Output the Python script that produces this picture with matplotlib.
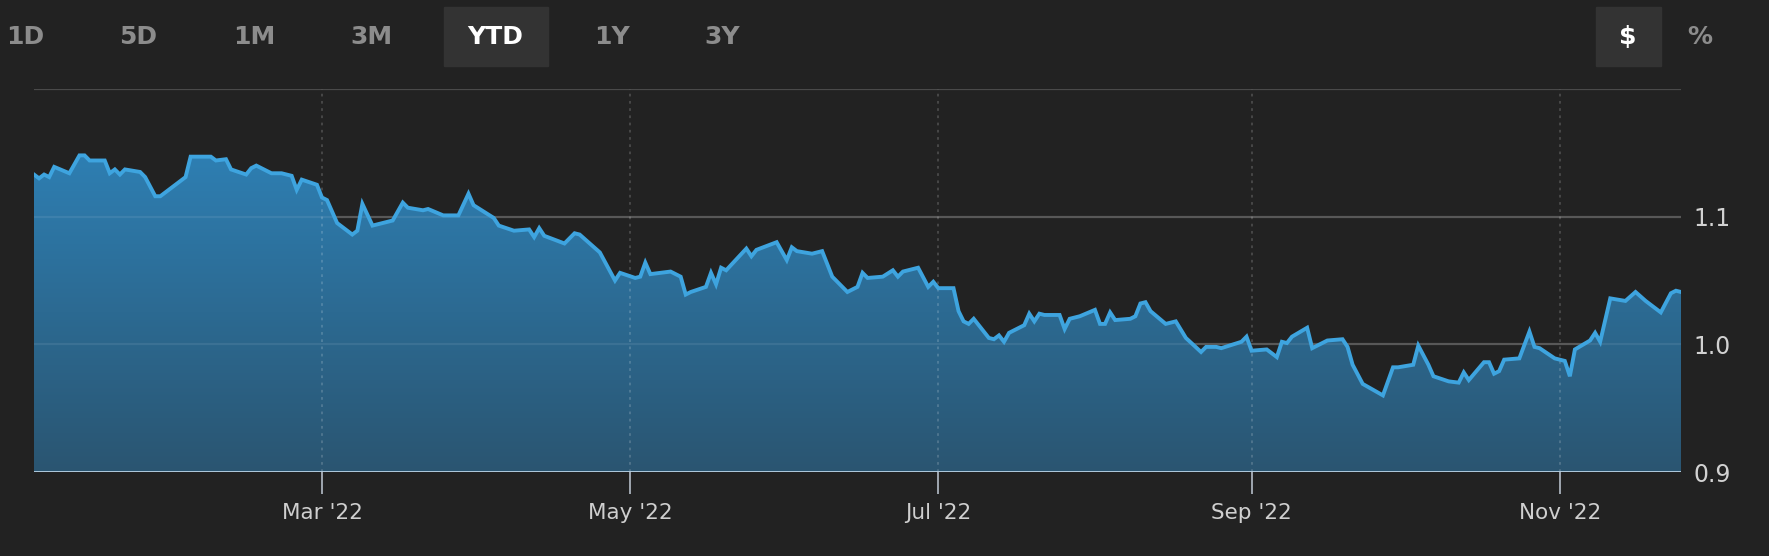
import numpy as np
import pandas as pd
import matplotlib
matplotlib.use("Agg")
import matplotlib.pyplot as plt
import matplotlib.dates as mdates
from matplotlib.colors import LinearSegmentedColormap
from matplotlib.patches import Rectangle

# Données (jours depuis le 3 janv. 2022, valeur)
days = [0, 1, 2, 3, 4, 7, 9, 10, 11, 14, 15, 16, 17, 18, 21, 22, 24, 25, 30, 31,
        35, 36, 38, 39, 42, 43, 44, 46, 47, 49, 51, 52, 53, 56, 57, 58, 60, 63, 64, 65,
        67, 71, 73, 74, 77, 78, 81, 84, 86, 87, 91, 92, 95, 98, 99, 100, 101, 105, 107, 108,
        112, 115, 116, 119, 120, 121, 122, 126, 128, 129, 130, 133, 134, 135, 136, 137, 141, 142, 143, 147,
        149, 150, 151, 154, 156, 158, 161, 163, 164, 165, 168, 170, 171, 172, 175, 177, 178, 179, 182, 183,
        184, 185, 186, 189, 190, 191, 192, 193, 196, 197, 198, 199, 200, 203, 204, 205, 207, 210, 211, 212,
        213, 214, 217, 218, 219, 220, 221, 224, 226, 228, 231, 232, 234, 235, 239, 240, 241, 244, 246, 247,
        248, 249, 252, 253, 256, 259, 260, 261, 263, 267, 269, 270, 273, 274, 276, 277, 280, 282, 283, 284,
        287, 288, 289, 290, 291, 294, 296, 297, 298, 301, 303, 304, 305, 308, 309, 310, 312, 315, 317, 319,
        322, 324, 325, 326]
values = [1.133, 1.130, 1.133, 1.131, 1.139, 1.134, 1.148, 1.148, 1.144, 1.144, 1.134, 1.137, 1.133, 1.137, 1.135, 1.131, 1.116, 1.116, 1.131, 1.147,
          1.147, 1.144, 1.145, 1.137, 1.133, 1.138, 1.140, 1.136, 1.134, 1.134, 1.132, 1.121, 1.129, 1.125, 1.115, 1.113, 1.095, 1.086, 1.089, 1.110,
          1.093, 1.097, 1.111, 1.107, 1.105, 1.106, 1.101, 1.101, 1.118, 1.109, 1.099, 1.093, 1.089, 1.090, 1.084, 1.091, 1.085, 1.079, 1.087, 1.086,
          1.072, 1.050, 1.056, 1.052, 1.053, 1.064, 1.055, 1.057, 1.053, 1.039, 1.041, 1.045, 1.056, 1.047, 1.060, 1.058, 1.075, 1.069, 1.074, 1.080,
          1.066, 1.076, 1.073, 1.071, 1.073, 1.053, 1.041, 1.045, 1.056, 1.052, 1.053, 1.058, 1.053, 1.057, 1.060, 1.045, 1.049, 1.044, 1.044, 1.026,
          1.018, 1.016, 1.020, 1.005, 1.004, 1.007, 1.002, 1.009, 1.015, 1.024, 1.018, 1.024, 1.023, 1.023, 1.012, 1.020, 1.022, 1.027, 1.016, 1.016,
          1.025, 1.019, 1.020, 1.022, 1.032, 1.033, 1.026, 1.016, 1.018, 1.005, 0.994, 0.998, 0.998, 0.997, 1.002, 1.006, 0.995, 0.996, 0.990, 1.002,
          1.001, 1.006, 1.013, 0.997, 1.003, 1.004, 0.998, 0.984, 0.969, 0.960, 0.982, 0.982, 0.984, 0.999, 0.984, 0.975, 0.971, 0.970, 0.978, 0.972,
          0.986, 0.986, 0.977, 0.979, 0.988, 0.989, 1.010, 0.998, 0.997, 0.989, 0.987, 0.975, 0.996, 1.003, 1.009, 1.002, 1.036, 1.034, 1.041, 1.034,
          1.025, 1.040, 1.042, 1.041]

tick_dates = ['2022-03-01', '2022-05-01', '2022-07-01', '2022-09-01', '2022-11-01']
tick_labels = ["Mar '22", "May '22", "Jul '22", "Sep '22", "Nov '22"]
y_ticks = [0.9, 1.0, 1.1]
y_labels = ['0.9', '1.0', '1.1']
buttons = ['1D', '5D', '1M', '3M', 'YTD', '1Y', '3Y']

bg = '#222222'
W, H = 1769, 556

dates = pd.Timestamp('2022-01-03') + pd.to_timedelta(days, unit='D')
x = mdates.date2num(dates.to_pydatetime())
y = np.array(values)

fig = plt.figure(figsize=(W / 100, H / 100), dpi=100, facecolor=bg)
ax = fig.add_axes([34 / W, 84 / H, (1681 - 34) / W, 383 / H])
ax.set_facecolor(bg)

x0, x1 = x[0], x[-1]
ax.set_xlim(x0, x1)
ax.set_ylim(0.9, 1.2)

# Grille sous le remplissage
for v in [1.0, 1.1, 1.2]:
    ax.axhline(v, color='#4a4a4a', lw=1.6, zorder=0.5)

# Remplissage en dégradé
cmap = LinearSegmentedColormap.from_list('fond', ['#2a5571', '#2e7fb3'])
grad = np.linspace(0, 1, 256).reshape(-1, 1)
im = ax.imshow(grad, extent=[x0, x1, 0.9, 1.15], origin='lower', aspect='auto',
               cmap=cmap, zorder=1, interpolation='bilinear')
poly = ax.fill_between(x, y, 0.9, facecolor='none', edgecolor='none')
im.set_clip_path(poly.get_paths()[0], transform=ax.transData)

# Trace légère de la grille dans la zone remplie
for v in [1.0, 1.1]:
    ax.axhline(v, color='white', alpha=0.08, lw=1.6, zorder=2)
for d in tick_dates:
    ax.axvline(mdates.date2num(pd.Timestamp(d)), color='white', alpha=0.18,
               lw=1.3, ls=(0, (1.5, 2.5)), zorder=2)

ax.plot(x, y, color='#3ea4df', lw=2.8, zorder=3, solid_joinstyle='miter')
ax.axhline(0.9, color='#bcd4e6', lw=2.0, zorder=4)

for s in ax.spines.values():
    s.set_visible(False)

ax.set_xticks([mdates.date2num(pd.Timestamp(d)) for d in tick_dates])
ax.set_xticklabels(tick_labels)
ax.tick_params(axis='x', length=16, width=1.2, color='#b5bec8', pad=6,
               labelsize=15.5, labelcolor='#cfcfcf')
ax.yaxis.tick_right()
ax.set_yticks(y_ticks)
ax.set_yticklabels(y_labels)
ax.tick_params(axis='y', length=0, pad=9, labelsize=17, labelcolor='#d2d2d2')

# Boutons du haut
btn_x = [25, 138, 254, 371, 495, 612, 722]
fig.add_artist(Rectangle((444 / W, 1 - 66 / H), 104 / W, 59 / H,
                         transform=fig.transFigure, color='#333333', zorder=0))
fig.add_artist(Rectangle((1596 / W, 1 - 66 / H), 65 / W, 59 / H,
                         transform=fig.transFigure, color='#333333', zorder=0))
for b, bx in zip(buttons, btn_x):
    col = 'white' if b == 'YTD' else '#8c8c8c'
    fig.text(bx / W, 1 - 37 / H, b, ha='center', va='center', fontsize=18,
             fontweight='bold', color=col)
fig.text(1628 / W, 1 - 37 / H, '$', ha='center', va='center', fontsize=18,
         fontweight='bold', color='white')
fig.text(1700 / W, 1 - 37 / H, '%', ha='center', va='center', fontsize=18,
         fontweight='bold', color='#8c8c8c')

fig.savefig('out.png', dpi=100, facecolor=bg)
